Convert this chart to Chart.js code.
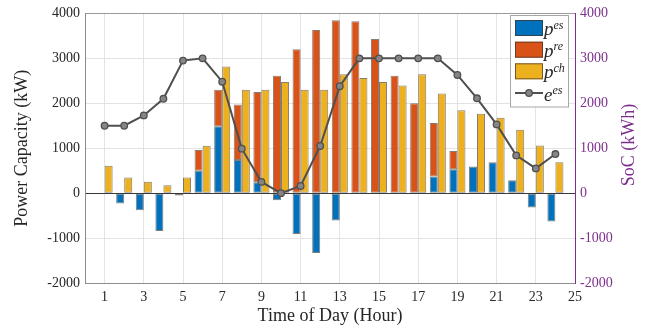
<!DOCTYPE html>
<html><head><meta charset="utf-8">
<script src="https://cdn.jsdelivr.net/npm/chart.js@4"></script>
<style>html,body{margin:0;padding:0;background:#fff}#wrap{width:658px;height:334px}</style>
</head><body><div id="wrap"><canvas id="c" width="658" height="334"></canvas></div>
<script>
// ---- data ----
const xTickLabels = ['0','1','2','3','4','5','6','7','8','9','10','11','12','13','14','15','16','17','18','19','20','21','22','23','24','25'];
const hours = [1,2,3,4,5,6,7,8,9,10,11,12,13,14,15,16,17,18,19,20,21,22,23,24];
const pES  = [null,-230,-380,-840,-50,500,1490,740,240,-160,-910,-1330,-610,null,null,null,null,370,530,590,690,285,-320,-630];
const pRE  = [null,null,null,null,null,460,810,1235,2010,2615,3200,3630,3845,3825,3430,2615,2000,1190,410,null,null,null,null,null];
const pCH  = [610,350,255,175,350,1055,2820,2300,2300,2475,2300,2300,2645,2560,2475,2395,2645,2215,1845,1765,1675,1410,1060,690];
const socES = [1500,1500,1730,2100,2950,3000,2480,990,250,0,160,1050,2380,3000,3000,3000,3000,3000,2630,2110,1530,840,550,870];
const yTicks = [-2000,-1000,0,1000,2000,3000,4000];

// ---- build ----
const pad = arr => [null, ...arr, null];
const BLUE='#0072BD', RED='#D95319', YEL='#EDB120', PURPLE='#7E2F8E', LINE='#4f4f4f';
const SERIF = "'Liberation Serif', 'Times New Roman', serif";

const legendPlugin = {
  id: 'customLegend',
  afterDraw(chart) {
    const ctx = chart.ctx;
    ctx.save();
    // right axis title
    ctx.save();
    ctx.translate(629, 145);
    ctx.rotate(-Math.PI/2);
    ctx.font = "18px " + SERIF;
    ctx.fillStyle = PURPLE;
    ctx.textAlign = 'center';
    ctx.textBaseline = 'middle';
    ctx.fillText('SoC (kWh)', 0, 0);
    ctx.restore();
    // legend box
    ctx.fillStyle = '#fff';
    ctx.fillRect(510.5, 15.5, 58, 91.5);
    ctx.strokeStyle = '#a6a6a6';
    ctx.lineWidth = 1;
    ctx.strokeRect(510.5, 15.5, 58, 91.5);
    const rows = [
      {c: BLUE, base: 'p', sup: 'es', top: 20},
      {c: RED, base: 'p', sup: 're', top: 41.7},
      {c: YEL, base: 'p', sup: 'ch', top: 63.3}
    ];
    ctx.textBaseline = 'alphabetic';
    ctx.textAlign = 'left';
    rows.forEach(r => {
      ctx.fillStyle = r.c;
      ctx.fillRect(515, r.top, 28, 16);
      ctx.strokeStyle = 'rgba(60,50,40,0.7)';
      ctx.strokeRect(515.5, r.top + 0.5, 27, 15);
      ctx.fillStyle = '#262626';
      ctx.font = "italic 19px " + SERIF;
      ctx.fillText(r.base, 544, r.top + 15);
      const w = ctx.measureText(r.base).width;
      ctx.font = "italic 12px " + SERIF;
      ctx.fillText(r.sup, 544 + w, r.top + 8.5);
    });
    // line legend
    ctx.strokeStyle = LINE;
    ctx.lineWidth = 2;
    ctx.beginPath(); ctx.moveTo(515, 93); ctx.lineTo(543, 93); ctx.stroke();
    ctx.beginPath(); ctx.arc(529, 93, 3.3, 0, Math.PI*2);
    ctx.fillStyle = '#858585'; ctx.fill();
    ctx.lineWidth = 1.3; ctx.strokeStyle = LINE; ctx.stroke();
    ctx.fillStyle = '#262626';
    ctx.font = "italic 19px " + SERIF;
    ctx.fillText('e', 544, 100.5);
    const we = ctx.measureText('e').width;
    ctx.font = "italic 12px " + SERIF;
    ctx.fillText('es', 544 + we, 93.5);
    ctx.restore();
  }
};

const barBorder = 'rgba(70,55,40,0.65)';
const plainTick = v => String(v);
new Chart(document.getElementById('c'), {
  type: 'bar',
  data: {
    labels: xTickLabels,
    datasets: [
      {type: 'line', label: 'e^es', data: pad(socES), yAxisID: 'y2', order: 0,
       borderColor: LINE, borderWidth: 2, backgroundColor: '#858585',
       pointRadius: 3.3, pointBorderWidth: 1.3, pointBorderColor: LINE, pointBackgroundColor: '#858585',
       tension: 0, fill: false},
      {label: 'p^es', data: pad(pES), backgroundColor: BLUE, borderColor: barBorder, borderWidth: 1, borderSkipped: false, stack: 'a', order: 1, yAxisID: 'y'},
      {label: 'p^re', data: pad(pRE), backgroundColor: RED, borderColor: barBorder, borderWidth: 1, borderSkipped: false, stack: 'a', order: 1, yAxisID: 'y'},
      {label: 'p^ch', data: pad(pCH), backgroundColor: YEL, borderColor: barBorder, borderWidth: 1, borderSkipped: false, stack: 'b', order: 1, yAxisID: 'y'}
    ]
  },
  options: {
    responsive: false,
    devicePixelRatio: 1,
    animation: false,
    layout: {padding: {top: 7, left: 0, right: 0, bottom: 0}},
    datasets: {bar: {categoryPercentage: 0.82, barPercentage: 1.0}},
    plugins: {legend: {display: false}, tooltip: {enabled: false}},
    scales: {
      x: {
        stacked: true,
        offset: false,
        afterFit: s => { s.height = 51; },
        grid: {offset: false, drawTicks: false,
          color: c => (c.index % 2 === 1 && c.index < 25) ? '#e3e3e3' : 'rgba(0,0,0,0)'},
        border: {display: true, color: '#8c8c8c', width: 1},
        ticks: {autoSkip: false, maxRotation: 0, padding: 6,
          font: {family: SERIF, size: 14}, color: '#262626',
          callback: function(v, i) { return i % 2 === 1 ? xTickLabels[i] : ''; }},
        title: {display: true, text: 'Time of Day (Hour)', font: {family: SERIF, size: 18}, color: '#262626', padding: {top: 0, bottom: 6.5}}
      },
      y: {
        stacked: true,
        position: 'left',
        min: -2000, max: 4000,
        afterFit: s => { s.width = 85; },
        afterBuildTicks: s => { s.ticks = yTicks.map(v => ({value: v})); },
        grid: {drawTicks: false,
          color: c => c.tick && c.tick.value === 0 ? '#3a3a3a' : (c.tick && c.tick.value === 4000 ? '#9a9a9a' : '#e3e3e3')},
        border: {display: true, color: '#8c8c8c', width: 1},
        ticks: {padding: 5, font: {family: SERIF, size: 14}, color: '#262626', callback: plainTick},
        title: {display: true, text: 'Power Capacity (kW)', font: {family: SERIF, size: 18}, color: '#262626', padding: {top: 11, bottom: 0}}
      },
      y2: {
        position: 'right',
        min: -2000, max: 4000,
        afterFit: s => { s.width = 83; },
        afterBuildTicks: s => { s.ticks = yTicks.map(v => ({value: v})); },
        grid: {display: false, drawTicks: false},
        border: {display: true, color: PURPLE, width: 1},
        ticks: {padding: 5, font: {family: SERIF, size: 14}, color: PURPLE, callback: plainTick},
        title: {display: false}
      }
    }
  },
  plugins: [legendPlugin]
});
</script>
</body></html>
